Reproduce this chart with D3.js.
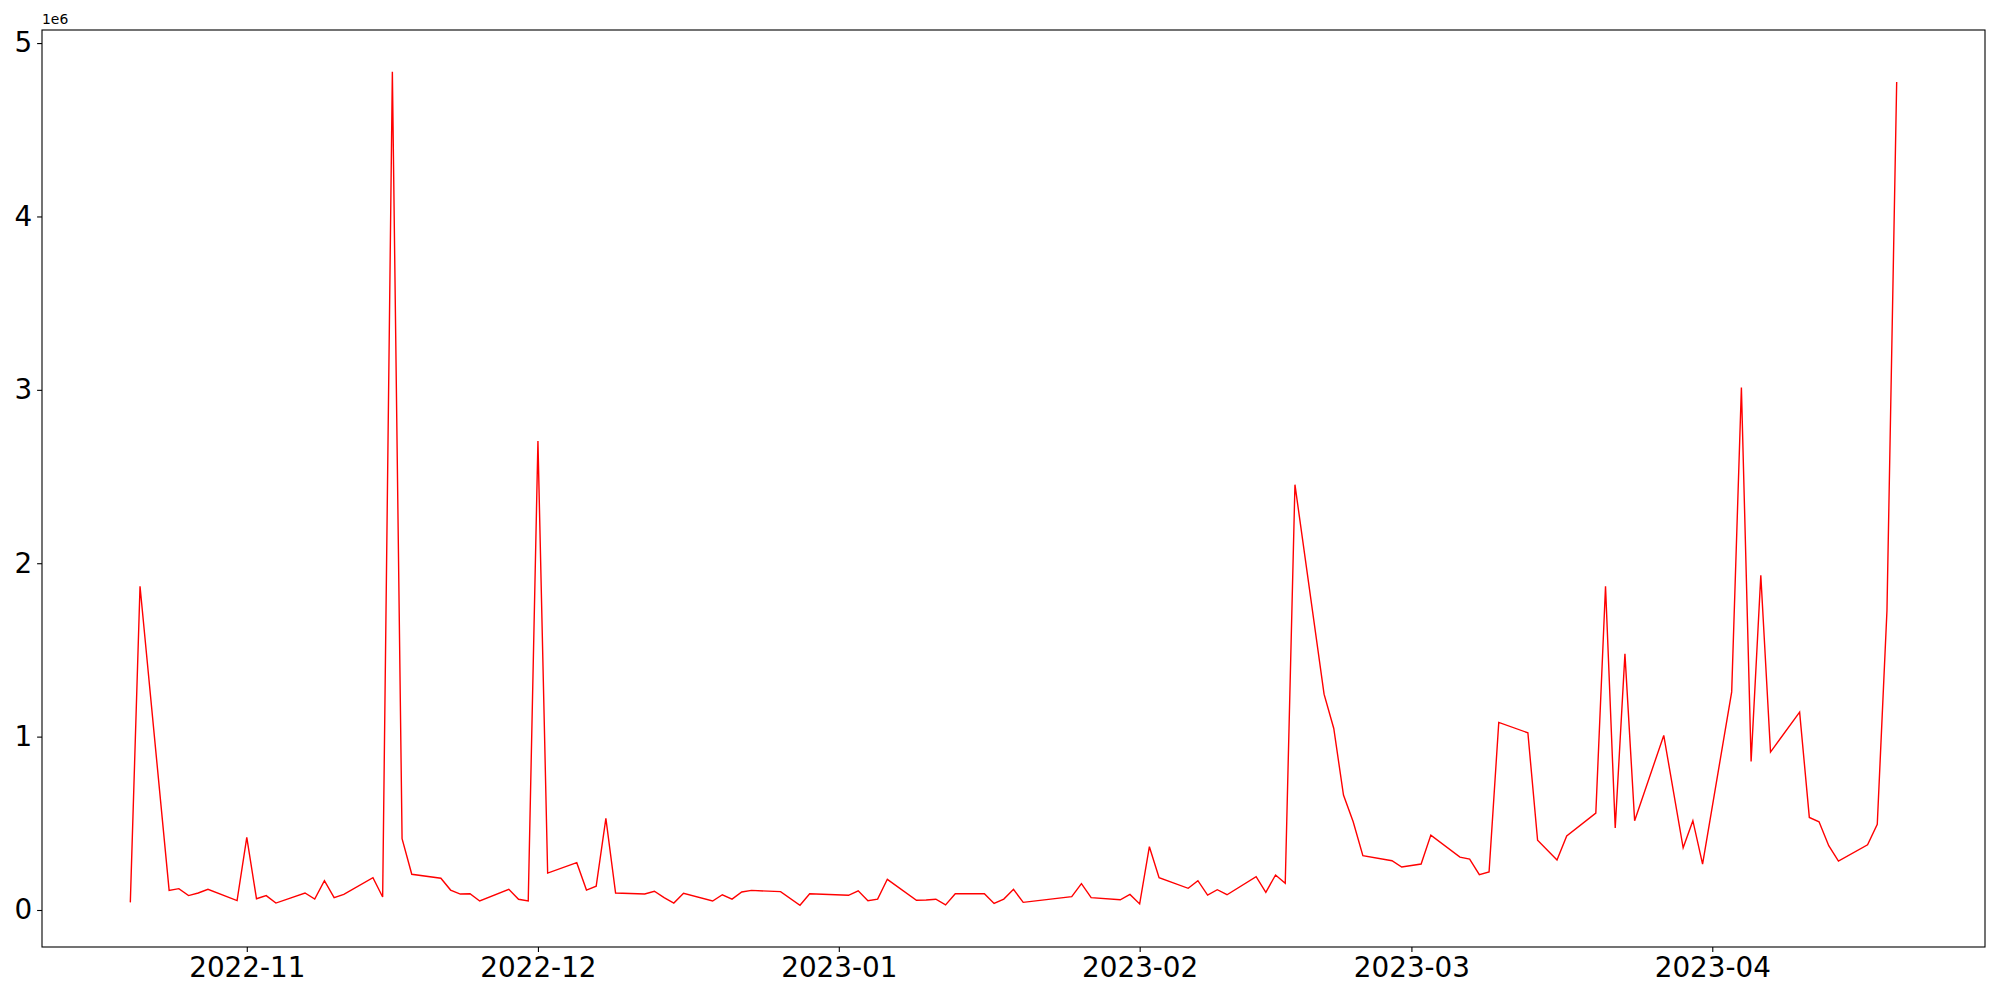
<html><head>
<title>daily series</title>
<script src="https://cdn.jsdelivr.net/npm/d3@7"></script>
<style>
  body { margin: 0; background: white; }
  .tick text { font-family: 'DejaVu Sans'; font-size: 27.8px; fill: black; }
  .offset { font-family: 'DejaVu Sans'; font-size: 13.9px; fill: black; }
</style>
</head>
<body>
<svg id="chart" width="2000" height="1000"></svg>
<script>

const dates = [
  "2022-10-20","2022-10-21","2022-10-24","2022-10-25","2022-10-26","2022-10-27","2022-10-28",
  "2022-10-31","2022-11-01","2022-11-02","2022-11-03","2022-11-04",
  "2022-11-07","2022-11-08","2022-11-09","2022-11-10","2022-11-11",
  "2022-11-14","2022-11-15","2022-11-16","2022-11-17","2022-11-18",
  "2022-11-21","2022-11-22","2022-11-23","2022-11-24","2022-11-25",
  "2022-11-28","2022-11-29","2022-11-30","2022-12-01","2022-12-02",
  "2022-12-05","2022-12-06","2022-12-07","2022-12-08","2022-12-09",
  "2022-12-12","2022-12-13","2022-12-14","2022-12-15","2022-12-16",
  "2022-12-19","2022-12-20","2022-12-21","2022-12-22","2022-12-23",
  "2022-12-26","2022-12-28","2022-12-29",
  "2023-01-02","2023-01-03","2023-01-04","2023-01-05","2023-01-06",
  "2023-01-09","2023-01-10","2023-01-11","2023-01-12","2023-01-13",
  "2023-01-16","2023-01-17","2023-01-18","2023-01-19","2023-01-20",
  "2023-01-25","2023-01-26","2023-01-27",
  "2023-01-30","2023-01-31","2023-02-01","2023-02-02","2023-02-03",
  "2023-02-06","2023-02-07","2023-02-08","2023-02-09","2023-02-10",
  "2023-02-13","2023-02-14","2023-02-15","2023-02-16","2023-02-17",
  "2023-02-20","2023-02-21","2023-02-22","2023-02-23","2023-02-24",
  "2023-02-27","2023-02-28","2023-03-02","2023-03-03",
  "2023-03-06","2023-03-07","2023-03-08","2023-03-09","2023-03-10",
  "2023-03-13","2023-03-14","2023-03-16","2023-03-17",
  "2023-03-20","2023-03-21","2023-03-22","2023-03-23","2023-03-24",
  "2023-03-27","2023-03-29","2023-03-30","2023-03-31",
  "2023-04-03","2023-04-04","2023-04-05","2023-04-06","2023-04-07",
  "2023-04-10","2023-04-11","2023-04-12","2023-04-13","2023-04-14",
  "2023-04-17","2023-04-18","2023-04-19","2023-04-20"
];

const values = [
  44000,1867000,113000,123000,83000,98000,119000,
  54000,419000,65000,83000,40000,
  98000,63000,169000,71000,90000,
  186000,75000,4835000,411000,206000,
  183000,115000,92000,94000,52000,
  119000,62000,52000,2705000,213000,
  273000,115000,137000,528000,98000,
  92000,108000,71000,40000,96000,
  52000,88000,63000,104000,113000,
  106000,27000,94000,
  85000,111000,54000,63000,177000,
  56000,58000,62000,29000,94000,
  94000,38000,63000,119000,44000,
  77000,152000,71000,
  59000,90000,35000,365000,186000,
  125000,169000,86000,117000,88000,
  192000,102000,202000,154000,2453000,
  1245000,1047000,663000,509000,313000,
  284000,248000,265000,432000,
  305000,294000,204000,219000,1082000,
  1022000,402000,288000,427000,
  559000,1867000,473000,1477000,515000,
  1007000,359000,515000,265000,
  1258000,3013000,857000,1931000,911000,
  1141000,534000,509000,371000,282000,
  376000,494000,1729000,4775000
];

const xTicks = ["2022-11-01","2022-12-01","2023-01-01","2023-02-01","2023-03-01","2023-04-01"];
const yTicks = [0, 1e6, 2e6, 3e6, 4e6, 5e6];

const svg = d3.select("#chart");
const margin = {top: 30, right: 15, bottom: 53, left: 42};
const width = 2000 - margin.left - margin.right;
const height = 1000 - margin.top - margin.bottom;
const g = svg.append("g").attr("transform", `translate(${margin.left},${margin.top})`);

const parse = d3.utcParse("%Y-%m-%d");
const data = dates.map((d, i) => ({date: parse(d), value: values[i]}));

// matplotlib style 5% padding
const xExt = d3.extent(data, d => d.date);
const xPad = (xExt[1] - xExt[0]) * 0.05;
const xScale = d3.scaleUtc()
  .domain([new Date(+xExt[0] - xPad), new Date(+xExt[1] + xPad)])
  .range([0, width]);

const yExt = d3.extent(values);
const yPad = (yExt[1] - yExt[0]) * 0.05;
const yScale = d3.scaleLinear()
  .domain([yExt[0] - yPad, yExt[1] + yPad])
  .range([height, 0]);

const line = d3.line()
  .x(d => xScale(d.date))
  .y(d => yScale(d.value));

g.append("path")
  .datum(data)
  .attr("fill", "none")
  .attr("stroke", "red")
  .attr("stroke-width", 1.4)
  .attr("stroke-linejoin", "miter")
  .attr("d", line);

const bottomAxis = d3.axisBottom(xScale)
  .tickValues(xTicks.map(parse))
  .tickFormat(d3.utcFormat("%Y-%m"))
  .tickSize(4.9)
  .tickPadding(4.9);
const gx = g.append("g")
  .attr("transform", `translate(0,${height})`)
  .call(bottomAxis);

const leftAxis = d3.axisLeft(yScale)
  .tickValues(yTicks)
  .tickFormat(d => d / 1e6)
  .tickSize(4.9)
  .tickPadding(4.9);
const gy = g.append("g").call(leftAxis);

[gx, gy].forEach(a => {
  a.select(".domain").remove();
  a.selectAll(".tick line").attr("stroke", "black").attr("stroke-width", 1.1);
});

// frame
g.append("rect")
  .attr("width", width)
  .attr("height", height)
  .attr("fill", "none")
  .attr("stroke", "black")
  .attr("stroke-width", 1.1);

svg.append("text")
  .attr("class", "offset")
  .attr("x", margin.left)
  .attr("y", margin.top - 6)
  .text("1e6");

</script>
</body>
</html>
